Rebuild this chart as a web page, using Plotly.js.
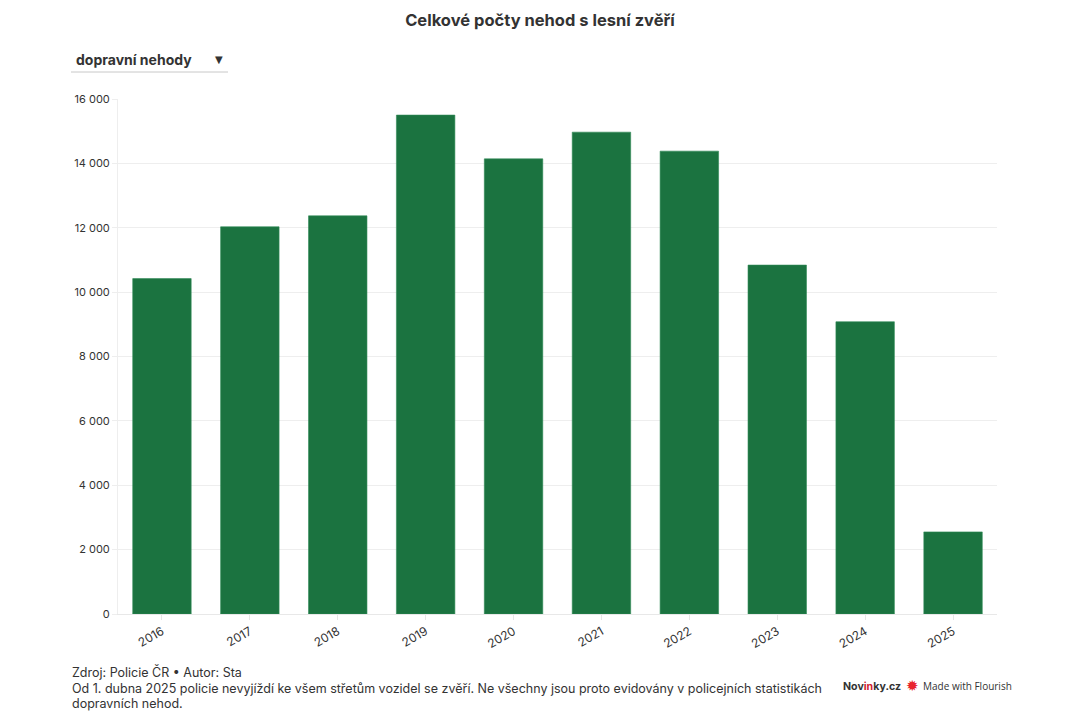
<!DOCTYPE html>
<html>
<head>
<meta charset="utf-8">
<script src="https://cdn.plot.ly/plotly-3.0.1.min.js"></script>
<style>
html,body{margin:0;padding:0;background:#fff;}
#chart{width:1080px;height:720px;}
</style>
</head>
<body>
<div id="chart"></div>
<script>
// Data
const years = ['2016','2017','2018','2019','2020','2021','2022','2023','2024','2025'];
const accidents = [10420, 12030, 12370, 15500, 14140, 14970, 14380, 10840, 9080, 2550];
const yTicks = [0, 2000, 4000, 6000, 8000, 10000, 12000, 14000, 16000];

const titleText = 'Celkové počty nehod s lesní zvěří';
const dropdownText = 'dopravní nehody';
const sourceText = 'Zdroj: Policie ČR • Autor: Sta';
const noteLine1 = 'Od 1. dubna 2025 policie nevyjíždí ke všem střetům vozidel se zvěří. Ne všechny jsou proto evidovány v policejních statistikách';
const noteLine2 = 'dopravních nehod.';

// Layout geometry
const W = 1080, H = 720;
const L = 118, R = 83, T = 99, B = 106;
const pw = W - L - R, ph = H - T - B;
const px = x => (x - L) / pw;
const py = y => (H - B - y) / ph;

const FONT = 'Inter, "Noto Sans", sans-serif';

const trace = {
  type: 'bar',
  x: years,
  y: accidents,
  marker: {color: '#1b7340', line: {color: '#2f8a55', width: 0.6}},
  hoverinfo: 'x+y'
};

function footer(text, y, size, family, extra) {
  return Object.assign({
    text: text, xref: 'paper', yref: 'paper',
    x: px(70), y: py(y), xanchor: 'left', yanchor: 'middle', showarrow: false,
    font: {family: family || FONT, size: size || 12.5, color: '#333333'}
  }, extra || {});
}

const layout = {
  width: W, height: H,
  margin: {l: L, r: R, t: T, b: B, pad: 0},
  paper_bgcolor: '#ffffff',
  plot_bgcolor: '#ffffff',
  separators: ', ',
  bargap: 0.335,
  showlegend: false,
  font: {family: FONT, color: '#333333'},
  title: {
    text: '<b>' + titleText + '</b>',
    font: {family: FONT, size: 16.5, color: '#333333'},
    x: 0.5, xref: 'container', xanchor: 'center',
    y: 1 - 20/H, yref: 'container', yanchor: 'middle'
  },
  xaxis: {
    type: 'category',
    tickangle: -30,
    tickfont: {family: FONT, size: 12, color: '#333333'},
    ticks: 'outside', ticklen: 5, tickcolor: '#e6e6e6', tickwidth: 1,
    showgrid: false, zeroline: false,
    showline: true, linecolor: '#e8e8e8', linewidth: 1,
    fixedrange: true
  },
  yaxis: {
    range: [0, 16000],
    tickvals: yTicks,
    tickformat: ',d',
    tickfont: {family: FONT, size: 11, color: '#333333'},
    ticks: 'outside', ticklen: 5, tickcolor: '#eeeeee', tickwidth: 1,
    showgrid: true, gridcolor: '#eeeeee', gridwidth: 1,
    zeroline: false,
    showline: true, linecolor: '#eeeeee', linewidth: 1,
    fixedrange: true
  },
  shapes: [
    {type: 'line', xref: 'paper', yref: 'paper',
     x0: px(71), x1: px(228), y0: py(72), y1: py(72),
     line: {color: '#c8c8c8', width: 1}}
  ],
  annotations: [
    {text: '<b>' + dropdownText + '</b>', xref: 'paper', yref: 'paper',
     x: px(74), y: py(59), xanchor: 'left', yanchor: 'middle', showarrow: false,
     font: {family: FONT, size: 14, color: '#333333'}},
    {text: '▼', xref: 'paper', yref: 'paper',
     x: px(219), y: py(59), xanchor: 'center', yanchor: 'middle', showarrow: false,
     font: {family: '"DejaVu Sans", sans-serif', size: 10, color: '#333333'}},
    footer(sourceText, 672),
    footer(noteLine1, 688),
    footer(noteLine2, 703),
    {text: '<b>Nov<span style="color:#d0202e">in</span>ky.cz</b>', xref: 'paper', yref: 'paper',
     x: px(841), y: py(686), xanchor: 'left', yanchor: 'middle', showarrow: false,
     font: {family: FONT, size: 10.6, color: '#333333'}},
    {text: '✹', xref: 'paper', yref: 'paper',
     x: px(912), y: py(686), xanchor: 'center', yanchor: 'middle', showarrow: false,
     font: {family: '"DejaVu Sans", sans-serif', size: 15, color: '#e8232f'}},
    {text: 'Made with Flourish', xref: 'paper', yref: 'paper',
     x: px(921), y: py(686), xanchor: 'left', yanchor: 'middle', showarrow: false,
     font: {family: '"Open Sans", sans-serif', size: 10, color: '#333333'}}
  ]
};

Plotly.newPlot('chart', [trace], layout, {displayModeBar: false, responsive: false});
</script>
</body>
</html>
